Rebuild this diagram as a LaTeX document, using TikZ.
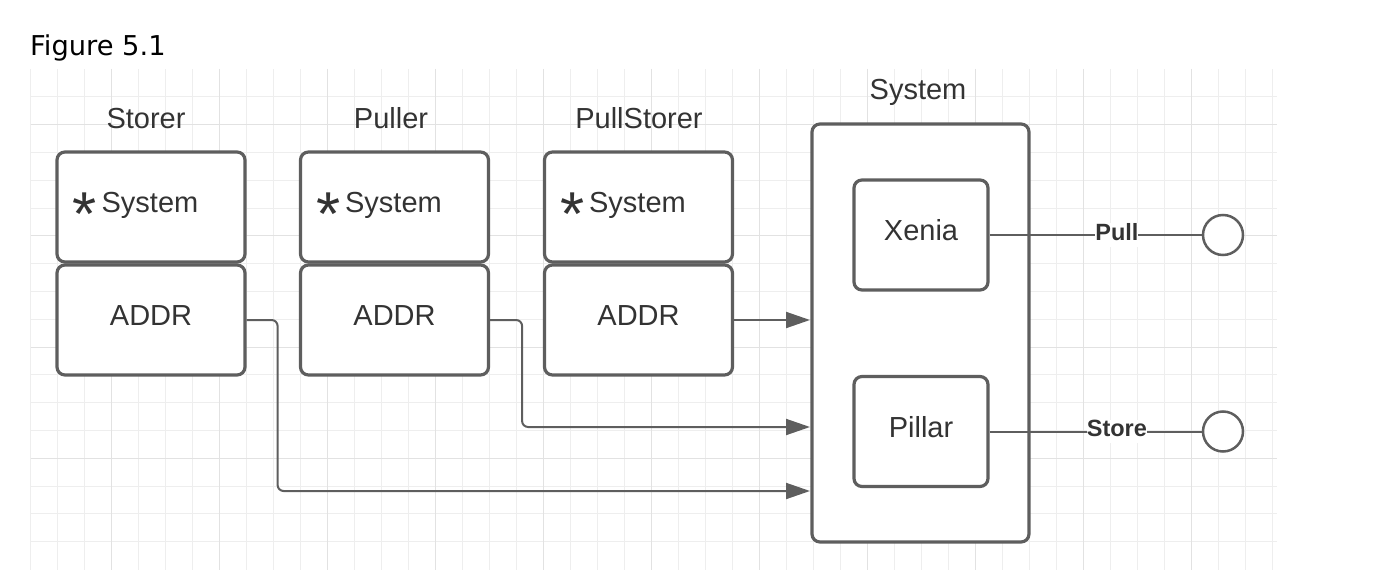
\documentclass[tikz,border=0pt]{standalone}
\usepackage{fontspec}
\setmainfont{Liberation Sans}
\newfontfamily\figfont{DejaVu Sans}
\usetikzlibrary{arrows.meta}
\definecolor{edge}{HTML}{5E5E5E}
\definecolor{ink}{HTML}{333333}
\definecolor{gridminor}{HTML}{EEEEEE}
\definecolor{gridmajor}{HTML}{E2E2E2}
\tikzset{
  box/.style={draw=edge, line width=3.2pt, rounded corners=8pt, fill=white, inner sep=0pt,
    text=ink, font=\fontsize{29}{34}\selectfont, text height=21pt, text depth=10pt},
  sbox/.style={box, minimum width=188pt, minimum height=110pt},
  head/.style={text=ink, inner sep=0pt, anchor=base, font=\fontsize{29}{34}\selectfont},
  conn/.style={draw=edge, line width=2pt, rounded corners=6pt, -{Triangle[length=24pt,width=16pt]}},
  wire/.style={draw=edge, line width=2pt},
  tag/.style={fill=white, inner sep=0pt, text=ink, text depth=6pt, font=\bfseries\fontsize{23.5}{28}\selectfont},
  port/.style={circle, draw=edge, line width=2.5pt, minimum size=40pt, inner sep=0pt, fill=white},
}
\newcommand{\starsys}{{\fontsize{62}{62}\selectfont\raisebox{-23pt}{*}}\hspace{5pt}System}
\begin{document}
\begin{tikzpicture}[x=1pt,y=-1pt]
  \useasboundingbox (0,0) rectangle (1395,575);
  % grid
  \foreach \i in {0,...,46} \draw[gridminor, line width=1pt] ({30.7+27*\i},69) -- ({30.7+27*\i},570);
  \foreach \j in {1,...,17} \draw[gridminor, line width=1pt] (30.7,{69+27.8*\j}) -- (1277,{69+27.8*\j});
  \foreach \i in {3,7,...,43} \draw[gridmajor, line width=1pt] ({30.7+27*\i},69) -- ({30.7+27*\i},570);
  \foreach \j in {2,6,10,14} \draw[gridmajor, line width=1pt] (30.7,{69+27.8*\j}) -- (1277,{69+27.8*\j});

  \node[anchor=base west, inner sep=0pt, font=\figfont\fontsize{27.3}{31}\selectfont] (fig) at (30,56) {Figure 5.1};

  \node[head] (storerHead) at (146,129) {Storer};
  \node[head] (pullerHead) at (391,129) {Puller};
  \node[head] (pstorerHead) at (639,129) {PullStorer};
  \node[head] (sysHead) at (918,100) {System};

  \node[sbox, text width=157pt, align=left] (storerSys) at (151,207) {\starsys};
  \node[sbox] (storerAddr) at (151,320) {ADDR};
  \node[sbox, text width=157pt, align=left] (pullerSys) at (394.5,207) {\starsys};
  \node[sbox] (pullerAddr) at (394.5,320) {ADDR};
  \node[sbox, text width=157pt, align=left] (pstorerSys) at (638.5,207) {\starsys};
  \node[sbox] (pstorerAddr) at (638.5,320) {ADDR};

  \node[box, minimum width=217pt, minimum height=418pt] (sys) at (920.5,333) {};
  \node[box, minimum width=134pt, minimum height=110pt] (xenia) at (921,235) {Xenia};
  \node[box, minimum width=134pt, minimum height=110pt] (pillar) at (921,431.5) {Pillar};

  \node[port] (pullEnd) at (1223,235) {};
  \node[port] (storeEnd) at (1223,431.5) {};
  \draw[wire] (xenia.east) -- node[tag, pos=0.6] {Pull} (pullEnd.west);
  \draw[wire] (pillar.east) -- node[tag, pos=0.6] {Store} (storeEnd.west);

  \coordinate (inA) at (810,320);
  \coordinate (inB) at (810,427);
  \coordinate (inC) at (810,491);
  \draw[conn] (pstorerAddr.east) -- (inA);
  \draw[conn] (pullerAddr.east) -- ++(32,0) |- (inB);
  \draw[conn] (storerAddr.east) -- ++(31,0) |- (inC);
\end{tikzpicture}
\end{document}
